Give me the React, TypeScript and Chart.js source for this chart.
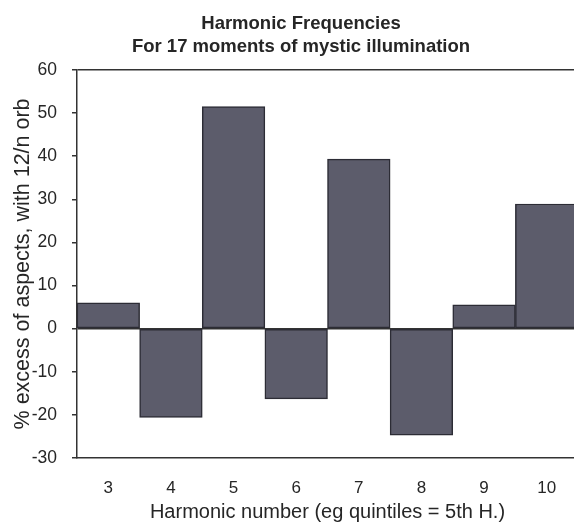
import React, { useEffect, useRef } from "react";
import { Chart, registerables } from "chart.js";

Chart.register(...registerables);

const categories = ["3", "4", "5", "6", "7", "8", "9", "10"];
const excessValues = [6, -20.6, 51.5, -16.3, 39.3, -24.7, 5.5, 28.9];
const titleLines = ["Harmonic Frequencies", "For 17 moments of mystic illumination"];
const yTitle = "% excess of aspects, with 12/n orb";
const xTitle = "Harmonic number (eg quintiles = 5th H.)";
const yMin = -30;
const yMax = 60;
const yStep = 10;

const FONT = "'Liberation Sans', Arial, sans-serif";
const INK = "#262626";

export default function App() {
  const ref = useRef<HTMLCanvasElement | null>(null);

  useEffect(() => {
    if (!ref.current) return;
    const chart = new Chart(ref.current, {
      type: "bar",
      data: {
        labels: categories,
        datasets: [
          {
            data: excessValues,
            backgroundColor: "#5c5c6b",
            borderColor: "#2c2c35",
            borderWidth: 1.5,
            borderSkipped: false,
            categoryPercentage: 1,
            barPercentage: 1,
          },
        ],
      },
      options: {
        responsive: false,
        animation: false,
        devicePixelRatio: 1,
        layout: { padding: 0 },
        plugins: {
          legend: { display: false },
          tooltip: { enabled: false },
          title: {
            display: true,
            text: titleLines,
            color: INK,
            font: { family: FONT, size: 18.5, weight: "bold", lineHeight: 1.24 },
            padding: { top: 12, bottom: 12 },
          },
        },
        scales: {
          x: {
            grid: { display: false },
            border: { display: true, color: "#333", width: 1.5 },
            ticks: { color: INK, font: { family: FONT, size: 17 }, padding: 12, maxRotation: 0 },
            title: {
              display: true,
              text: xTitle,
              color: INK,
              font: { family: FONT, size: 20, lineHeight: 1.2 },
              padding: { top: 0, bottom: 0 },
            },
            afterFit: (s: any) => {
              s.height = 66;
            },
          },
          y: {
            min: yMin,
            max: yMax,
            ticks: { stepSize: yStep, color: INK, font: { family: FONT, size: 17.5 }, padding: 15 },
            grid: {
              color: (ctx: any) =>
                ctx.tick && (ctx.tick.value === 0 || ctx.tick.value === yMax) ? "#333" : "rgba(0,0,0,0)",
              tickColor: "#333",
              tickLength: 5,
              lineWidth: 1.5,
            },
            border: { display: true, color: "#333", width: 1.5 },
            title: {
              display: true,
              text: yTitle,
              color: INK,
              font: { family: FONT, size: 21.5, lineHeight: 1.2 },
              padding: { top: 10, bottom: 0 },
            },
            afterFit: (s: any) => {
              s.width = 77;
            },
          },
          yRight: {
            position: "right",
            display: true,
            grid: { display: false },
            border: { display: false },
            ticks: { display: false },
            afterFit: (s: any) => {
              s.width = 24;
            },
          },
        },
      },
    } as any);
    return () => chart.destroy();
  }, []);

  return (
    <div style={{ position: "absolute", left: 0, top: 0, width: 574, height: 524, overflow: "hidden", background: "#fff" }}>
      <canvas ref={ref} width={602} height={524} style={{ display: "block" }} />
    </div>
  );
}
